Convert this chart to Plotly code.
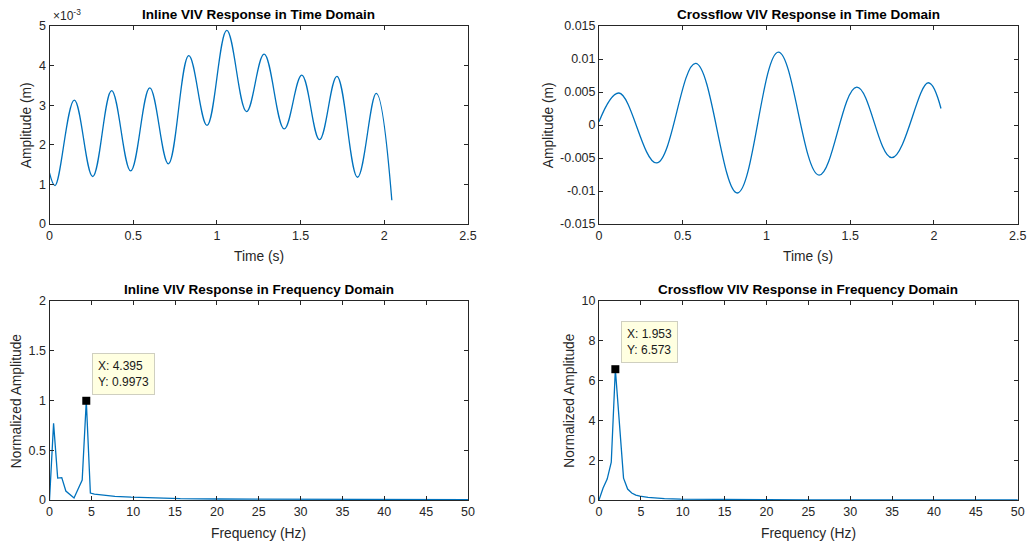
import plotly.graph_objects as go

# ---- Inline VIV, time domain (m) ----
t_inline = [0.0, 0.033, 0.148, 0.258, 0.371, 0.485, 0.599, 0.710, 0.832, 0.941,
            1.059, 1.177, 1.282, 1.402, 1.507, 1.613, 1.717, 1.840, 1.952, 2.045]
amp_inline = [1.29e-3, 0.97e-3, 3.13e-3, 1.20e-3, 3.37e-3, 1.34e-3, 3.44e-3, 1.52e-3,
              4.25e-3, 2.49e-3, 4.89e-3, 2.84e-3, 4.29e-3, 2.40e-3, 3.76e-3, 2.13e-3,
              3.73e-3, 1.18e-3, 3.30e-3, 0.60e-3]

# ---- Crossflow VIV, time domain (m) ----
t_cross = [0.0, 0.119, 0.344, 0.577, 0.826, 1.071, 1.314, 1.539, 1.748, 1.966, 2.042]
amp_cross = [0.0005, 0.00485, -0.00575, 0.00935, -0.0103, 0.01105, -0.0076,
             0.00575, -0.00495, 0.0064, 0.0025]

# ---- Inline VIV, frequency domain ----
f_inline = [0.0, 0.488, 0.977, 1.465, 1.953, 2.441, 2.930, 3.418, 3.906, 4.395,
            4.883, 5.371, 5.859, 6.836, 7.813, 9.766, 12.70, 15.63, 20.02, 25.39,
            30.27, 35.16, 40.04, 45.41, 50.29]
spec_inline = [0.0, 0.77, 0.22, 0.225, 0.09, 0.05, 0.02, 0.11, 0.20, 0.9973,
               0.07, 0.06, 0.055, 0.045, 0.037, 0.028, 0.018, 0.013, 0.010, 0.008,
               0.007, 0.006, 0.005, 0.005, 0.004]

# ---- Crossflow VIV, frequency domain ----
f_cross = [0.0, 0.488, 0.977, 1.465, 1.953, 2.441, 2.930, 3.418, 3.906, 4.395,
           4.883, 5.859, 6.836, 7.813, 9.766, 12.70, 15.63, 20.02, 25.39, 30.27,
           35.16, 40.04, 45.41, 50.29]
spec_cross = [0.0, 0.6, 1.05, 1.9, 6.573, 3.85, 1.1, 0.55, 0.35, 0.25,
              0.19, 0.13, 0.09, 0.07, 0.045, 0.03, 0.022, 0.015, 0.011, 0.009,
              0.007, 0.006, 0.005, 0.004]

# Data-tip points
tip_inline = (4.395, 0.9973)
tip_cross = (1.953, 6.573)

titles = ["Inline VIV Response in Time Domain",
          "Crossflow VIV Response in Time Domain",
          "Inline VIV Response in Frequency Domain",
          "Crossflow VIV Response in Frequency Domain"]

W, H = 1028, 546
LINE = "#0072BD"
AX = "#262626"
FONT = "Liberation Sans, Arial, Helvetica, sans-serif"

# plot-area rectangles in pixels: (left, right, top, bottom)
boxes = [(49.5, 468.0, 26.0, 224.0),
         (599.0, 1017.7, 26.0, 224.0),
         (49.5, 468.0, 301.0, 500.0),
         (599.0, 1017.7, 301.0, 500.0)]


def dom(b):
    l, r, t, bt = b
    return [l / W, r / W], [1 - bt / H, 1 - t / H]


fig = go.Figure()
series = [(t_inline, amp_inline, "spline"), (t_cross, amp_cross, "spline"),
          (f_inline, spec_inline, "linear"), (f_cross, spec_cross, "linear")]
for i, (x, y, shape) in enumerate(series):
    sfx = "" if i == 0 else str(i + 1)
    fig.add_trace(go.Scatter(x=x, y=y, mode="lines",
                             line=dict(color=LINE, width=1.3, shape=shape, smoothing=1.1),
                             xaxis="x" + sfx, yaxis="y" + sfx, showlegend=False,
                             cliponaxis=True))

for i, tip in ((2, tip_inline), (3, tip_cross)):
    sfx = str(i + 1)
    fig.add_trace(go.Scatter(x=[tip[0]], y=[tip[1]], mode="markers",
                             marker=dict(symbol="square", size=8, color="black"),
                             xaxis="x" + sfx, yaxis="y" + sfx, showlegend=False,
                             cliponaxis=False))

tickfont = dict(family=FONT, size=12.5, color=AX)
common = dict(showline=True, linecolor=AX, linewidth=1, mirror="ticks",
              ticks="inside", ticklen=4, tickcolor=AX, tickwidth=1,
              showgrid=False, zeroline=False, tickfont=tickfont, fixedrange=True,
              automargin=False)

xcfg = [dict(range=[0, 2.5], tickvals=[0, 0.5, 1, 1.5, 2, 2.5],
             ticktext=["0", "0.5", "1", "1.5", "2", "2.5"]),
        dict(range=[0, 2.5], tickvals=[0, 0.5, 1, 1.5, 2, 2.5],
             ticktext=["0", "0.5", "1", "1.5", "2", "2.5"]),
        dict(range=[0, 50], tickvals=list(range(0, 51, 5)),
             ticktext=[str(v) for v in range(0, 51, 5)]),
        dict(range=[0, 50], tickvals=list(range(0, 51, 5)),
             ticktext=[str(v) for v in range(0, 51, 5)])]
ycfg = [dict(range=[0, 0.005], tickvals=[0, 0.001, 0.002, 0.003, 0.004, 0.005],
             ticktext=["0", "1", "2", "3", "4", "5"]),
        dict(range=[-0.015, 0.015],
             tickvals=[-0.015, -0.01, -0.005, 0, 0.005, 0.01, 0.015],
             ticktext=["-0.015", "-0.01", "-0.005", "0", "0.005", "0.01", "0.015"]),
        dict(range=[0, 2], tickvals=[0, 0.5, 1, 1.5, 2],
             ticktext=["0", "0.5", "1", "1.5", "2"]),
        dict(range=[0, 10], tickvals=[0, 2, 4, 6, 8, 10],
             ticktext=["0", "2", "4", "6", "8", "10"])]

layout = {}
for i, b in enumerate(boxes):
    sfx = "" if i == 0 else str(i + 1)
    xd, yd = dom(b)
    layout["xaxis" + sfx] = dict(domain=xd, anchor="y" + sfx, **xcfg[i], **common)
    layout["yaxis" + sfx] = dict(domain=yd, anchor="x" + sfx, **ycfg[i], **common)

ann = []
xlabels = ["Time (s)", "Time (s)", "Frequency (Hz)", "Frequency (Hz)"]
ylabels = ["Amplitude (m)", "Amplitude (m)", "Normalized Amplitude", "Normalized Amplitude"]
ylabel_x = [27.3, 549.3, 16.7, 569.3]
xlabel_y = [256.5, 256.5, 533.0, 533.0]
for i, b in enumerate(boxes):
    l, r, t, bt = b
    cx = (l + r) / 2
    ann.append(dict(text="<b>" + titles[i] + "</b>", x=cx / W, y=1 - (t - 12) / H,
                    xref="paper", yref="paper", showarrow=False,
                    xanchor="center", yanchor="middle",
                    font=dict(family=FONT, size=13.5, color="black")))
    ann.append(dict(text=xlabels[i], x=cx / W, y=1 - xlabel_y[i] / H,
                    xref="paper", yref="paper", showarrow=False,
                    xanchor="center", yanchor="middle",
                    font=dict(family=FONT, size=13.8, color=AX)))
    ann.append(dict(text=ylabels[i], x=ylabel_x[i] / W, y=1 - (t + bt) / 2 / H,
                    xref="paper", yref="paper", showarrow=False, textangle=-90,
                    xanchor="center", yanchor="middle",
                    font=dict(family=FONT, size=13.8, color=AX)))

# exponent label of the inline time axis
ann.append(dict(text="\u00d710<sup>-3</sup>", x=51 / W, y=1 - 25 / H,
                xref="paper", yref="paper", showarrow=False,
                xanchor="left", yanchor="bottom",
                font=dict(family=FONT, size=12, color=AX)))

# data tips
for sfx, tip in (("3", tip_inline), ("4", tip_cross)):
    ann.append(dict(text="X: " + "{:.3f}".format(tip[0]) + "<br>Y: " + "{:.4g}".format(tip[1]),
                    x=tip[0], y=tip[1], xref="x" + sfx, yref="y" + sfx,
                    showarrow=False, xanchor="left", yanchor="bottom",
                    xshift=6, yshift=6, align="left",
                    bgcolor="#FFFFE1", bordercolor="#CFCFC0", borderwidth=1,
                    borderpad=5, font=dict(family=FONT, size=12, color="#1a1a1a")))

fig.update_layout(width=W, height=H, autosize=False,
                  margin=dict(l=0, r=0, t=0, b=0),
                  paper_bgcolor="white", plot_bgcolor="white",
                  annotations=ann, **layout)

fig.write_html("out.html", config={"displayModeBar": False})
